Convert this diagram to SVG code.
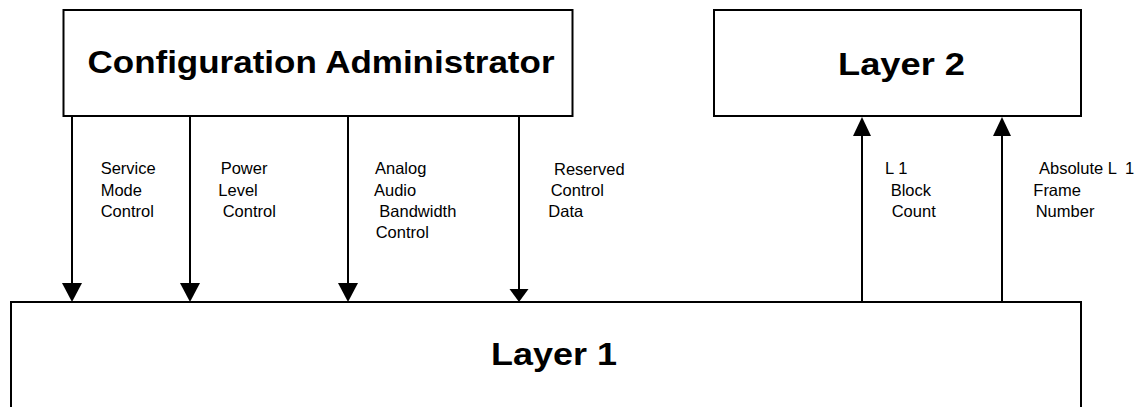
<svg xmlns="http://www.w3.org/2000/svg" width="1141" height="407" viewBox="0 0 1141 407">
  <style>
    .box { fill: #ffffff; stroke: #000000; stroke-width: 2; }
    .title { font-family: "Liberation Sans", Arial, sans-serif; font-weight: bold; font-size: 32px; fill: #000000; }
    .lbl { font-family: "Liberation Sans", Arial, sans-serif; font-size: 16.5px; fill: #000000; }
    .wire { stroke: #000000; stroke-width: 2; fill: none; }
    .head { fill: #000000; stroke: none; }
  </style>
  <rect width="1141" height="407" fill="#ffffff"/>

  <g id="layer1">
    <rect class="box" x="11" y="302" width="1070" height="130"/>
    <text class="title" x="491" y="365" textLength="126" lengthAdjust="spacingAndGlyphs">Layer 1</text>
  </g>

  <g id="config-admin">
    <rect class="box" x="63.5" y="10" width="509" height="106"/>
    <text class="title" x="87.5" y="72.5" textLength="467" lengthAdjust="spacingAndGlyphs">Configuration Administrator</text>
  </g>

  <g id="layer2">
    <rect class="box" x="714" y="10" width="367" height="106"/>
    <text class="title" x="838" y="75" textLength="127" lengthAdjust="spacingAndGlyphs">Layer 2</text>
  </g>

  <g id="connectors">
    <line class="wire" x1="72" y1="116" x2="72" y2="290"/>
    <polygon class="head" points="62,283 82,283 72,302"/>
    <line class="wire" x1="190" y1="116" x2="190" y2="290"/>
    <polygon class="head" points="180,283 200,283 190,302"/>
    <line class="wire" x1="348" y1="116" x2="348" y2="290"/>
    <polygon class="head" points="338,283 358,283 348,302"/>
    <line class="wire" x1="519" y1="116" x2="519" y2="292"/>
    <polygon class="head" points="509.5,289 528.5,289 519,302"/>
    <line class="wire" x1="862" y1="302" x2="862" y2="130"/>
    <polygon class="head" points="853,136 871,136 862,117"/>
    <line class="wire" x1="1002" y1="302" x2="1002" y2="130"/>
    <polygon class="head" points="993,136 1011,136 1002,117"/>
  </g>

  <g id="labels">
    <text class="lbl" x="100.7" y="174.3">Service</text>
    <text class="lbl" x="100.7" y="195.7">Mode</text>
    <text class="lbl" x="100.7" y="217.3">Control</text>

    <text class="lbl" x="220.7" y="174.3">Power</text>
    <text class="lbl" x="218.3" y="195.7">Level</text>
    <text class="lbl" x="222.7" y="217.3">Control</text>

    <text class="lbl" x="375" y="174.3">Analog</text>
    <text class="lbl" x="374" y="195.7">Audio</text>
    <text class="lbl" x="379.3" y="217.3">Bandwidth</text>
    <text class="lbl" x="375.7" y="237.5">Control</text>

    <text class="lbl" x="554" y="175">Reserved</text>
    <text class="lbl" x="550.7" y="196">Control</text>
    <text class="lbl" x="548.3" y="217.3">Data</text>

    <text class="lbl" x="885" y="174.3">L 1</text>
    <text class="lbl" x="890.7" y="195.7">Block</text>
    <text class="lbl" x="891.7" y="217.3">Count</text>

    <text class="lbl" x="1039" y="174.3">Absolute L <tspan x="1125">1</tspan></text>
    <text class="lbl" x="1033.3" y="195.7">Frame</text>
    <text class="lbl" x="1035.7" y="217.3">Number</text>
  </g>
</svg>
